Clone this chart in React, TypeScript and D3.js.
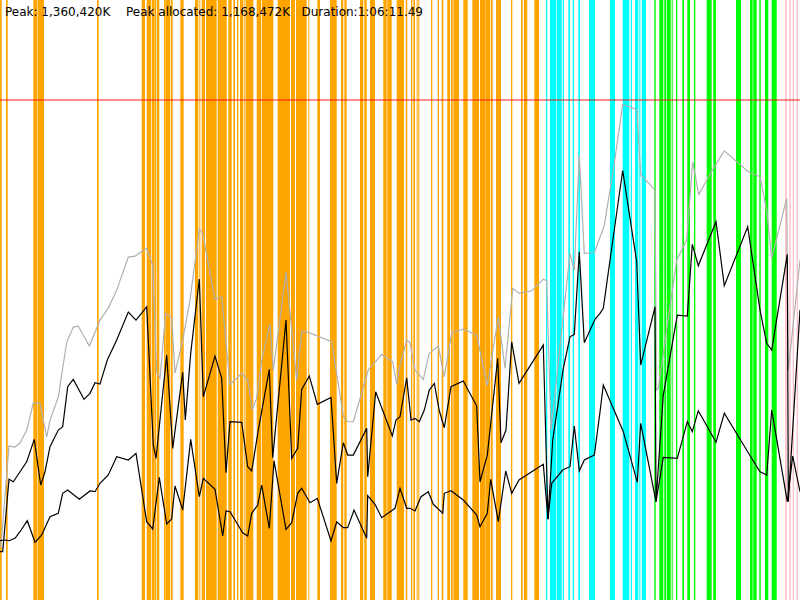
import React from 'react';
import * as d3 from 'd3';

// timeline is in recorder ticks (0..800), memory in MB (thousands of K)
type Span = [number, number];
type Sample = [number, number];

const timelineEnd = 800;
const memoryMax = 1632.5;
const peakHeap = 1360.42;

const headerLabels = ['Peak: 1,360,420K', 'Peak allocated: 1,168,472K', 'Duration:1:06:11.49'];

// GC pauses, [start, end] ticks, by collector kind
const youngPauses: Span[] = [
  [0, 1.7], [6, 7.7], [33.3, 35], [35, 37.3], [37.7, 44], [97, 98.7], [141.7, 145], [146.7, 151],
  [151.7, 154], [154.3, 156], [156.7, 159.3], [164, 165.7], [166, 170], [170.7, 172.7], [180.3, 183.7],
  [195, 198.3], [199.3, 200.3], [201.7, 205], [206, 216.7], [217.7, 226.7], [228.3, 231.7], [233.3, 235],
  [237, 238.3], [240, 243.3], [244.3, 245], [245.7, 253.3], [256.7, 261], [261.7, 273.3], [277.7, 290],
  [291, 295], [296, 306.7], [308.3, 309.3], [317.3, 320], [330, 336.7], [341, 343.3], [344.3, 346.7],
  [360, 363.3], [364.3, 366.7], [370, 375], [383.3, 386.7], [387.3, 391.7], [396.7, 404],
  [405.7, 407.3], [411, 412.3], [413.3, 415], [416.7, 417.7],
  [418.3, 419.3], [431, 432.3], [437.7, 439], [441.7, 443.3], [447.3, 450], [451, 452.7], [453.3, 459],
  [463.3, 467.7], [472.3, 479], [480, 485.7], [486, 490], [490.7, 492.7], [496, 501], [511, 512.3],
  [521, 522.7], [524, 527.3], [534.3, 539],
];
const concurrentPauses: Span[] = [
  [546, 547.3], [550, 556], [556.7, 561.7], [562.7, 564], [568.3, 570], [572.7, 574], [578.3, 580],
  [589, 595], [610, 615], [622.7, 629.3], [630.7, 632], [635, 638.3], [639.3, 640], [641.7, 646],
];
const mixedPauses: Span[] = [
  [654.3, 655.7], [659.3, 663.3], [664.3, 666], [666.7, 670.7], [671.7, 672.7], [676, 677.3],
  [682.3, 684], [687.3, 690], [694, 695.3], [706.7, 711.7], [713.3, 716], [736, 741], [750, 752.7],
  [753.3, 756.7], [759.3, 760.7], [765, 768.3], [771.7, 776.7],
];
const fullPauses: Span[] = [[785, 786.7], [789.3, 790.7], [792.7, 794], [796.7, 798]];

// heap size
const heapSize: Sample[] = [
  [0, 141.4], [1.7, 172.2], [9, 418.9], [15, 416.2], [20, 427], [26.7, 462.4], [33.3, 535.8], [40, 535.8],
  [46.7, 443.4], [50, 489.6], [58.3, 552.2], [66.7, 701.8], [73.3, 742.6], [78.3, 745.3], [89.3, 690.9],
  [100, 761.6], [108.3, 794.2], [116.7, 843.2], [128.3, 933], [135, 935.7], [146.7, 957.4], [152.7, 911.2],
  [156.7, 620.2], [160, 603.8], [165.7, 780.6], [171.7, 767], [175, 617.4], [182.7, 707.2], [190, 816],
  [199.3, 1009.1], [202.7, 997.4], [215, 817.9], [221.7, 825], [230, 586.7], [241.7, 616.6], [247.7, 598.4],
  [252.3, 518.7], [256.7, 548.6], [261.7, 652.8], [270, 750.7], [273.3, 625.6], [286, 893], [296.7, 598.4],
  [301.7, 729.8], [308.3, 728.1], [331.7, 702.6], [343.3, 500.5], [347.7, 485], [353.3, 485], [368.3, 625.6],
  [381.7, 668.3], [392.7, 648.2], [396.7, 586.7], [400, 639.2], [406.7, 707.2], [410, 699.9], [415, 625.6],
  [423.3, 600.3], [429.3, 671], [438.3, 690.9], [444.3, 607.4], [451.7, 727.1], [463.3, 737.1], [476.7, 720.8],
  [487.3, 582.9], [498.3, 770.6], [505, 630.2], [512.7, 847.8], [519.3, 834.2], [531.7, 841.3], [543.3, 873.1],
  [546.7, 868.5], [551, 462.4], [570, 943], [574.3, 897.6], [579.3, 1210.4], [584.3, 943], [594.3, 944.7],
  [600, 987.4], [604, 1015.4], [613.3, 1169.6], [622.7, 1348.3], [636.7, 1334.7], [640.7, 1157.9],
  [655, 1115.2], [656.5, 571.2], [658.3, 575.8], [676.7, 924.8], [686.7, 979.2], [692.7, 1192.2],
  [698.7, 1103.5], [713.3, 1174.2], [724.3, 1222.1], [748.3, 1165], [760, 1151.4], [766.7, 1060.8],
  [771.7, 929.4], [786.7, 1092.6], [788.3, 625.6], [800, 924.8],
];

// allocated
const allocated: Sample[] = [
  [0, 131.4], [2.7, 131.4], [9, 328.3], [13.3, 321.8], [20, 349], [26.7, 376.2], [34.3, 437.1], [40.7, 312.8],
  [45, 349], [50, 417], [58.3, 462.4], [62.7, 471.4], [67.7, 580.2], [73.3, 600.3], [84, 545.9], [90, 562.2],
  [95, 591.1], [100, 587.5], [107.3, 652.8], [116.7, 707.2], [128.3, 783.4], [136, 761.6], [146.7, 797.8],
  [153.3, 421.6], [156, 385.4], [166.7, 666.4], [172.7, 412.6], [182.7, 619.3], [185.3, 489.6], [190.7, 671],
  [199.3, 873.1], [203.3, 553], [215, 663.7], [221.7, 603], [226, 346.3], [230, 485], [241.7, 483.3],
  [247.7, 362.6], [251.7, 350.9], [258.3, 462.4], [269.3, 627.5], [272.7, 387.1], [286, 761.6], [291.7, 385.4],
  [297.7, 412.6], [301.7, 573.1], [309.3, 609.3], [317.3, 532.3], [331, 551.3], [336.7, 317.4], [343.3, 427.9],
  [347.7, 394.4], [353.3, 394.4], [366.7, 467], [367.7, 335.4], [375.7, 566.6], [392.3, 446.1], [396, 489.6],
  [400, 498.6], [406.7, 604.7], [411, 489.6], [415, 494.2], [419.3, 485], [424.3, 516.8], [429.3, 571.2],
  [434.3, 589.4], [439.3, 514.9], [444.3, 468.7], [451, 580.2], [463.3, 595.7], [476.7, 527.7], [480, 321.8],
  [487.3, 394.4], [497.7, 657.4], [501, 427.9], [506, 462.4], [511.7, 702.6], [519, 589.4], [543.3, 693.6],
  [548, 220], [552.7, 435.2], [563.3, 630.2], [570, 716.2], [574.3, 722.7], [579.3, 947.4], [584.3, 699.9],
  [595, 763.6], [600, 780], [603.3, 793.6], [613.3, 988.4], [622.7, 1168.5], [636.7, 920.2], [640.7, 639.2],
  [655, 797.8], [656, 267.4], [663.3, 557.6], [677.3, 775.2], [687.3, 772.5], [692.3, 967.5], [698.3, 909.3],
  [716, 1029.3], [724.3, 855.1], [747.7, 1015.7], [760, 789], [766.7, 698.4], [771.7, 680.2], [787.3, 940.5],
  [788.3, 267.4], [800, 789],
];

// live after collection
const liveAfterGc: Sample[] = [
  [0, 161.3], [5.3, 163.2], [9, 161.3], [15, 167.9], [20, 185.8], [27.3, 215.8], [35, 157], [41.7, 176.8],
  [50, 226.6], [58.3, 235.9], [62.7, 290.3], [67.7, 299.3], [79.3, 274], [90, 296.6], [95, 294.7], [100, 317.5],
  [108.3, 340.1], [116.7, 389.9], [128.3, 380.9], [136, 399.1], [146.7, 213], [152.7, 193.2], [159.3, 333.8],
  [166.7, 206.8], [171.7, 220.4], [175, 310.2], [182.7, 244.9], [190.7, 437.2], [199.3, 281.1], [203.3, 331.1],
  [215, 301.2], [222.7, 174.1], [226, 242.2], [230, 240.2], [242.7, 183.1], [247.7, 174.1], [251.7, 235.9],
  [257.7, 258.5], [261.7, 312.9], [269.3, 195.1], [274, 379], [286, 192.4], [291.7, 210.3], [297.7, 290.3],
  [301.7, 303.9], [310, 264.7], [317.3, 276.7], [331, 160.5], [336.7, 213], [343.3, 196.7], [347.7, 196.7],
  [354, 244.9], [366.7, 167.9], [367.7, 283.8], [375, 260.4], [381.7, 223.9], [395, 249.5], [400, 303.9],
  [406.7, 249.5], [410, 249.5], [415, 242.2], [421, 281.1], [428.3, 294.7], [433.3, 260.4], [442.7, 235.9],
  [444.3, 290.3], [451, 297.4], [463.3, 272.1], [476.7, 231.3], [480, 199.4], [487.3, 235.9], [490.7, 328.4],
  [498.3, 213], [505.7, 351], [511.7, 290.3], [519, 326.5], [543.3, 369.2], [548, 220], [551.7, 317.5],
  [562.7, 353.7], [570, 362.7], [574.3, 473.4], [579.3, 351], [584.3, 380.9], [594.3, 394.5], [600, 511.5],
  [603.3, 585], [623.3, 457.9], [637.3, 320.2], [640.7, 480.8], [656, 267.4], [663.3, 388.3], [677.3, 385.5],
  [687.3, 485.1], [692.3, 457.9], [698.3, 515.1], [716, 429.1], [724.3, 508], [748.3, 400.8], [760, 349.1],
  [766.7, 340.1], [771.7, 517], [787.3, 267.4], [792.7, 391.8], [800, 294.7],
];

const W = 800;
const H = 600;

const x = d3.scaleLinear().domain([0, timelineEnd]).range([0, W]);
const y = d3.scaleLinear().domain([0, memoryMax]).range([H, 0]);

const line = d3
  .line<Sample>()
  .x(d => x(d[0]))
  .y(d => y(d[1]));

const pauseGroups: { spans: Span[]; color: string }[] = [
  { spans: youngPauses, color: '#ffa500' },
  { spans: concurrentPauses, color: '#00ffff' },
  { spans: mixedPauses, color: '#00ff00' },
  { spans: fullPauses, color: '#ffc0cb' },
];

const App: React.FC = () => {
  const labelX = [5, 126, 301.5];
  return (
    <svg
      width={W}
      height={H}
      style={{ position: 'absolute', left: 0, top: 0, background: '#fff' }}
    >
      {pauseGroups.map(g =>
        g.spans.map((s, i) => (
          <rect
            key={g.color + i}
            x={x(s[0])}
            y={0}
            width={Math.max(1, x(s[1]) - x(s[0]))}
            height={H}
            fill={g.color}
          />
        ))
      )}
      <line x1={0} x2={W} y1={y(peakHeap)} y2={y(peakHeap)} stroke="#ff0000" strokeOpacity={0.6} strokeWidth={1.5} />
      <path d={line(heapSize) ?? ''} fill="none" stroke="#b0b0b0" strokeWidth={1.2} />
      <path d={line(allocated) ?? ''} fill="none" stroke="#000" strokeWidth={1.2} />
      <path d={line(liveAfterGc) ?? ''} fill="none" stroke="#000" strokeWidth={1.2} />
      {headerLabels.map((t, i) => (
        <text key={t} x={labelX[i]} y={16} fontFamily="DejaVu Sans" fontSize={12} fill="#000">
          {t}
        </text>
      ))}
    </svg>
  );
};

export default App;
